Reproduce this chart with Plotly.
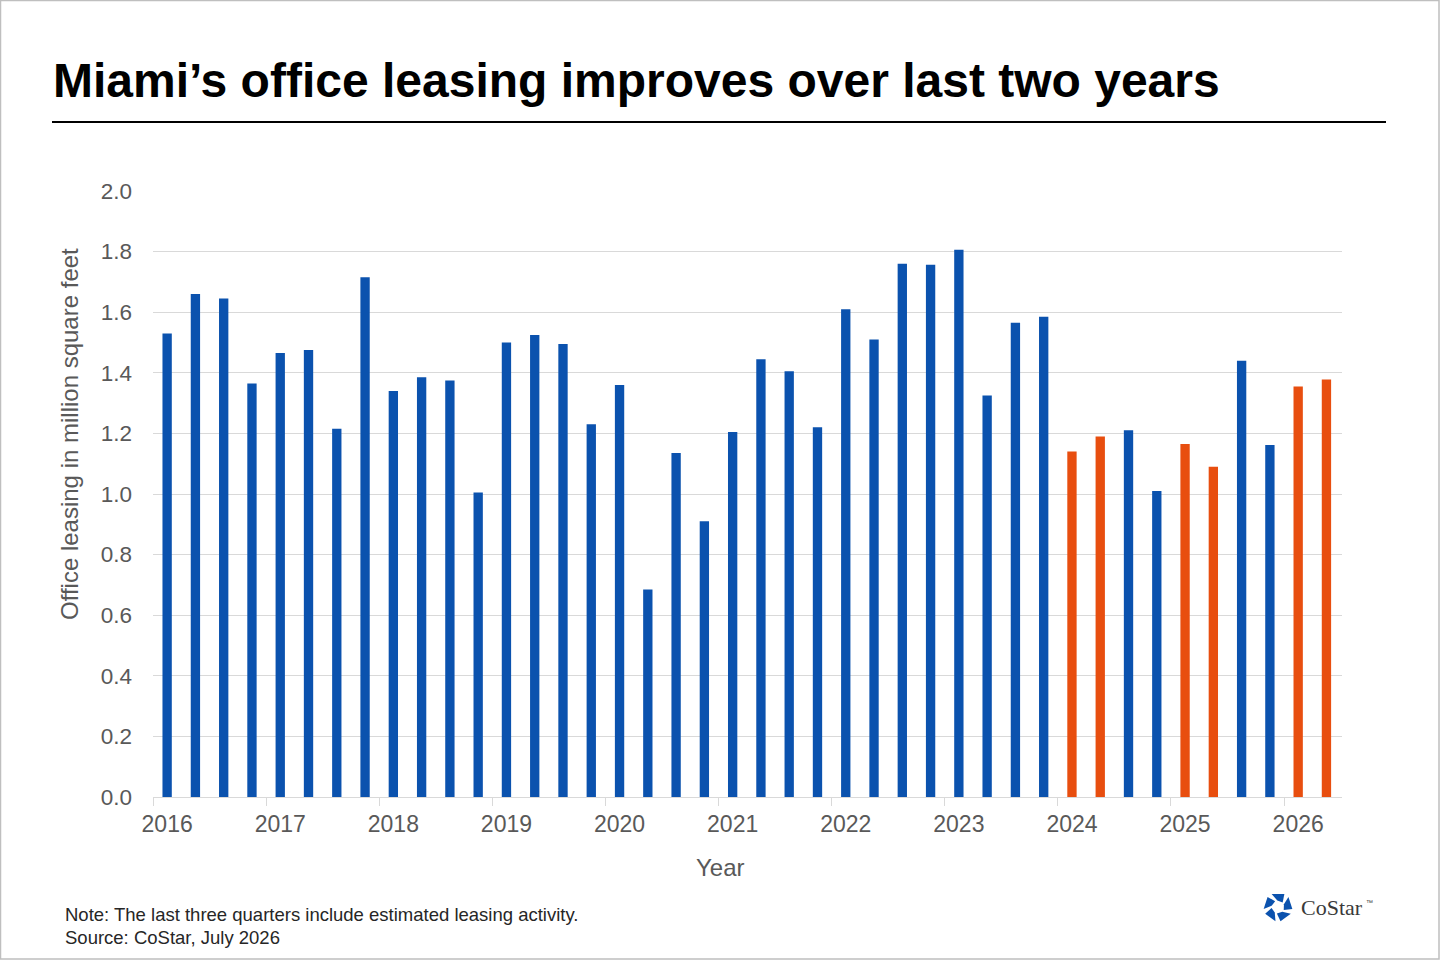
import math
import plotly.graph_objects as go

# ---------------- data ----------------
quarters = [f"{y} Q{q}" for y in range(2016, 2027) for q in range(1, 5)][:42]
leasing = [1.53, 1.66, 1.645, 1.365, 1.465, 1.475, 1.215, 1.715,
           1.34, 1.385, 1.375, 1.005, 1.50, 1.525, 1.495, 1.23,
           1.36, 0.685, 1.135, 0.91, 1.205, 1.445, 1.405, 1.22,
           1.61, 1.51, 1.76, 1.757, 1.806, 1.325, 1.565, 1.585,
           1.14, 1.19, 1.21, 1.01, 1.165, 1.09, 1.44, 1.162,
           1.355, 1.378]
estimated_flag = [q.endswith(("Q1", "Q2")) and q.startswith(("2024", "2025", "2026")) for q in quarters]
year_labels = [str(y) for y in range(2016, 2027)]
year_label_pos = [quarters[i] for i in range(0, 42, 4)]
y_ticks = [0.0, 0.2, 0.4, 0.6, 0.8, 1.0, 1.2, 1.4, 1.6, 1.8, 2.0]

BLUE = "#0B52AE"
ORANGE = "#E84E0F"
colors = [ORANGE if f else BLUE for f in estimated_flag]

# ---------------- geometry helpers (pixel -> paper) ----------------
L, R, T, B = 153, 1342, 191, 797
W, H = R - L, B - T


def px(x):
    return (x - L) / W


def py(y):
    return (B - y) / H


fig = go.Figure()
fig.add_trace(go.Bar(x=quarters, y=leasing, marker_color=colors,
                     marker_line_width=0, width=0.33))

boundaries = [i - 0.5 for i in range(0, 44, 4)]

fig.update_layout(
    width=1440, height=960,
    margin=dict(l=L, r=1440 - R, t=T, b=960 - B),
    paper_bgcolor="white", plot_bgcolor="white",
    showlegend=False,
    font=dict(family="Liberation Sans, Arial, sans-serif", color="#595959"),
    xaxis=dict(
        type="category",
        range=[-0.5, 41.55],
        tickmode="array", tickvals=year_label_pos, ticktext=year_labels,
        ticks="", showgrid=False,
        tickfont=dict(size=23, color="#595959"),
        showline=True, linecolor="#D9D9D9", linewidth=1,
        minor=dict(tickmode="array", tickvals=boundaries, ticks="outside",
                   ticklen=8, tickcolor="#D9D9D9", tickwidth=1, showgrid=False),
        ticklabelstandoff=6,
    ),
    yaxis=dict(
        range=[0, 2.0],
        tickmode="array", tickvals=y_ticks,
        ticktext=[f"{v:.1f}" for v in y_ticks],
        tickfont=dict(size=22.5, color="#595959"),
        showgrid=True, gridcolor="#D9D9D9", gridwidth=1,
        zeroline=False, showline=False,
        ticks="", ticklabelstandoff=20,
    ),
)

annotations = [
    dict(text="<b>Miami’s office leasing improves over last two years</b>",
         x=px(51), y=py(80), xanchor="left", yanchor="middle",
         font=dict(size=48, color="#000000", family="Liberation Sans, Arial, sans-serif")),
    dict(text="Office leasing in million square feet", textangle=-90,
         x=px(69), y=py(434), xanchor="center", yanchor="middle",
         font=dict(size=24, color="#595959")),
    dict(text="Year", x=px(720), y=py(867), xanchor="center", yanchor="middle",
         font=dict(size=24, color="#595959")),
    dict(text="Note: The last three quarters include estimated leasing activity.",
         x=px(63), y=py(914), xanchor="left", yanchor="middle",
         font=dict(size=18.5, color="#262626")),
    dict(text="Source: CoStar, July 2026",
         x=px(63), y=py(937), xanchor="left", yanchor="middle",
         font=dict(size=18.5, color="#262626")),
    dict(text="CoStar", x=px(1299), y=py(907), xanchor="left", yanchor="middle",
         font=dict(size=22, color="#3a3a3a", family="Liberation Serif, DejaVu Serif, serif")),
    dict(text="™", x=px(1364), y=py(902), xanchor="left", yanchor="middle",
         font=dict(size=7, color="#3a3a3a")),
]
for a in annotations:
    a.update(xref="paper", yref="paper", showarrow=False)
fig.update_layout(annotations=annotations)

shapes = [
    # rule under title
    dict(type="line", x0=px(52), x1=px(1386), y0=py(122), y1=py(122),
         line=dict(color="#000000", width=2)),
    # outer border
    dict(type="rect", x0=px(0.5), x1=px(1439), y0=py(0.5), y1=py(959),
         line=dict(color="#BFBFBF", width=1.5)),
]

# CoStar logo ring: five blocks
cx, cy, ro, ri = 1278, 907, 14.5, 6.5
for k in range(5):
    a0 = math.radians(-90 + k * 72 - 26)
    a1 = math.radians(-90 + k * 72 + 26)
    pts = [(cx + ro * math.cos(a0), cy + ro * math.sin(a0)),
           (cx + ro * math.cos(a1), cy + ro * math.sin(a1)),
           (cx + ri * math.cos(a1 + 0.35), cy + ri * math.sin(a1 + 0.35)),
           (cx + ri * math.cos(a0 + 0.35), cy + ri * math.sin(a0 + 0.35))]
    path = "M " + " L ".join(f"{px(x):.5f},{py(y):.5f}" for x, y in pts) + " Z"
    shapes.append(dict(type="path", path=path, fillcolor=BLUE,
                       line=dict(width=0)))

for s in shapes:
    s.update(xref="paper", yref="paper")
fig.update_layout(shapes=shapes)

fig.write_html("out.html")
